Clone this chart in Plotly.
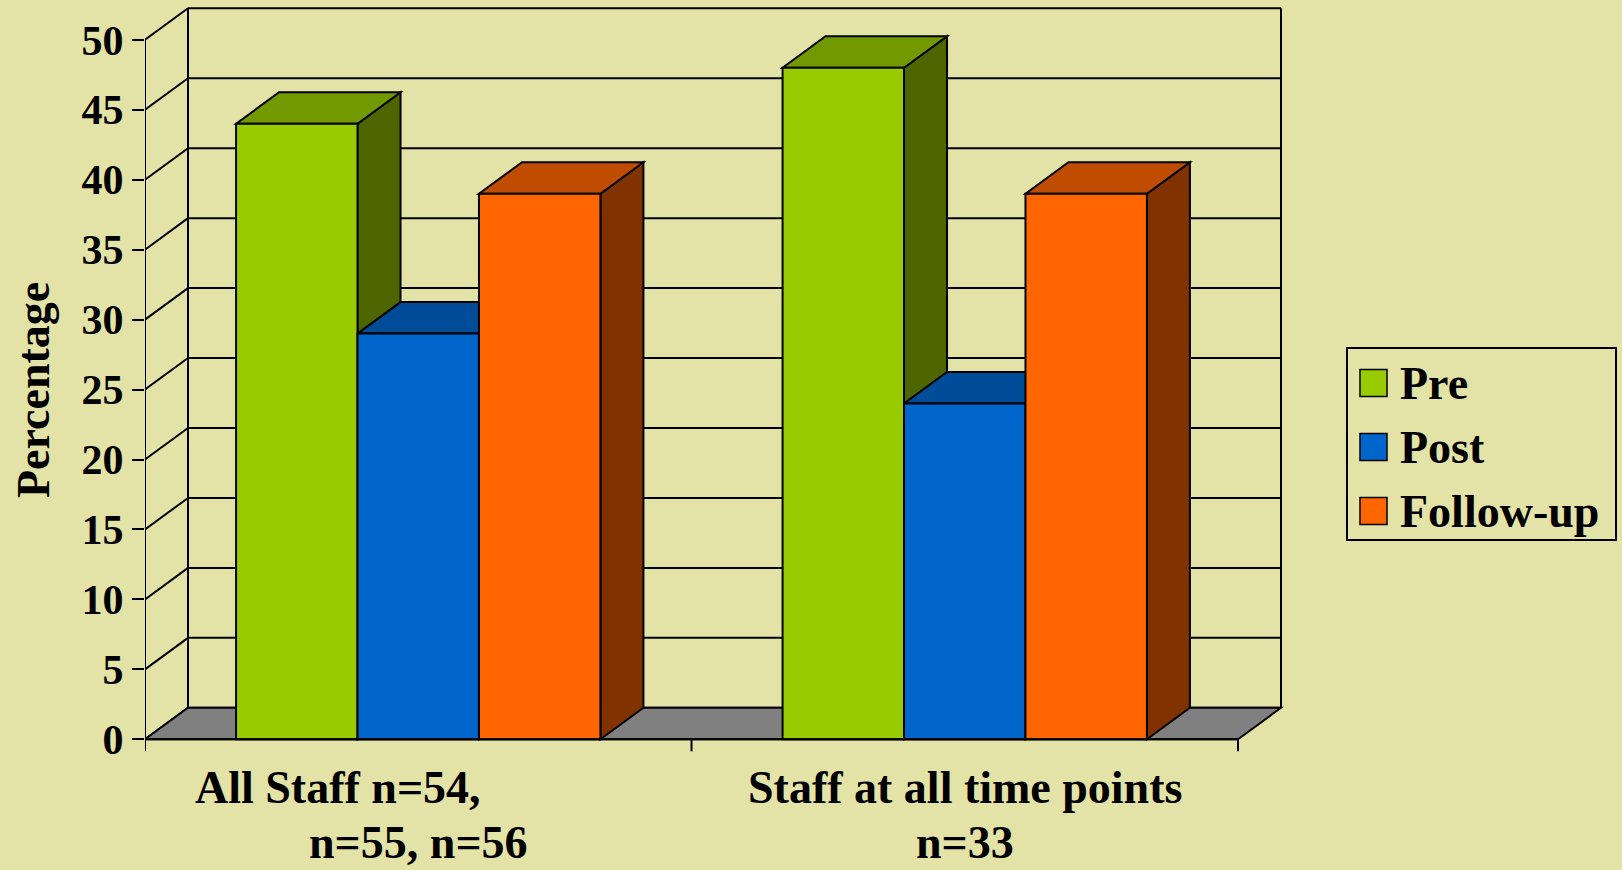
import plotly.graph_objects as go

# ---- data -------------------------------------------------------------
# category labels, one entry per printed line
category_lines = [
    ["All Staff n=54," + "\u00a0" * 14, "n=55, n=56"],
    ["Staff at all time points", "n=33"],
]
series_names = ["Pre", "Post", "Follow-up"]
pre = [44, 48]
post = [29, 24]
follow_up = [39, 39]
y_ticks = [0, 5, 10, 15, 20, 25, 30, 35, 40, 45, 50]
y_title = "Percentage"

# face colours per series: front, top (shaded), side (darker)
front_colors = ["#99CC00", "#0066CC", "#FF6600"]
top_colors = ["#739900", "#004C99", "#BF4C00"]
side_colors = ["#4D6600", "#003366", "#803300"]

BG = "#E3E3A7"
FONT = "Liberation Serif"

# ---- figure geometry ---------------------------------------------------
W, H = 1622, 870
L, R, T, B = 145, 318, 4, 117
PW, PH = W - L - R, H - T - B
PX_PER_X = 546.5          # pixels per category
PX_PER_Y = 13.99          # pixels per percentage point
ZERO_PX = 739.3           # pixel row of y = 0
plot_bottom = H - B

x_min = -0.5
x_max = x_min + PW / PX_PER_X
y_min = -(plot_bottom - ZERO_PX) / PX_PER_Y
y_max = y_min + PH / PX_PER_Y

# oblique depth of the 3-D box
dx = 43 / PX_PER_X
dy = 31.5 / PX_PER_Y

n_cat = len(category_lines)
n_ser = len(series_names)
bargap = 1 / 3
bw = (1 - bargap) / n_ser
values = [pre, post, follow_up]
y_top = y_ticks[-1]
x_lo, x_hi = -0.5, n_cat - 0.5


def px_to_paper_x(p):
    return (p - L) / PW


def px_to_paper_y(p):
    return (plot_bottom - p) / PH


def poly(xs, ys):
    d = "M " + " L ".join(f"{x},{y}" for x, y in zip(xs, ys)) + " Z"
    return d


shapes = []
line_k = dict(color="black", width=2)

# back wall gridlines and left side wall diagonals
for v in y_ticks:
    shapes.append(dict(type="line", xref="x", yref="y", layer="below",
                       x0=x_lo + dx, y0=v + dy, x1=x_hi + dx, y1=v + dy, line=line_k))
    shapes.append(dict(type="line", xref="x", yref="y", layer="below",
                       x0=x_lo, y0=v, x1=x_lo + dx, y1=v + dy, line=line_k))
for xe in (x_lo + dx, x_hi + dx):
    shapes.append(dict(type="line", xref="x", yref="y", layer="below",
                       x0=xe, y0=dy, x1=xe, y1=y_top + dy, line=line_k))

# floor
shapes.append(dict(type="path", xref="x", yref="y", layer="below",
                   path=poly([x_lo, x_hi, x_hi + dx, x_lo + dx], [0, 0, dy, dy]),
                   fillcolor="#808080", line=line_k))

# top and side faces of each bar, painted left to right
for c in range(n_cat):
    for s in range(n_ser):
        v = values[s][c]
        xl = c - (n_ser / 2) * bw + s * bw
        xr = xl + bw
        shapes.append(dict(type="path", xref="x", yref="y", layer="below",
                           path=poly([xr, xr + dx, xr + dx, xr], [0, dy, v + dy, v]),
                           fillcolor=side_colors[s], line=line_k))
        shapes.append(dict(type="path", xref="x", yref="y", layer="below",
                           path=poly([xl, xr, xr + dx, xl + dx], [v, v, v + dy, v + dy]),
                           fillcolor=top_colors[s], line=line_k))

# front axes
shapes.append(dict(type="line", xref="x", yref="y", layer="above",
                   x0=x_lo, y0=0, x1=x_lo, y1=y_top, line=line_k))
shapes.append(dict(type="line", xref="x", yref="y", layer="above",
                   x0=x_lo, y0=0, x1=x_hi, y1=0, line=line_k))
for xb in [x_lo + i for i in range(n_cat + 1)]:
    shapes.append(dict(type="line", xref="x", yref="y", layer="above",
                       x0=xb, y0=0, x1=xb, y1=-12 / PX_PER_Y, line=line_k))

fig = go.Figure()
for s in range(n_ser):
    fig.add_trace(go.Bar(
        x=list(range(n_cat)), y=values[s], name=series_names[s],
        marker=dict(color=front_colors[s], line=dict(color="black", width=2)),
        showlegend=False, hoverinfo="skip",
    ))

annotations = []
# category labels, one annotation per line
line_bottoms = [815, 869.5]
for c, lines in enumerate(category_lines):
    for txt, yb in zip(lines, line_bottoms):
        annotations.append(dict(
            x=c, xref="x", y=px_to_paper_y(yb), yref="paper",
            xanchor="center", yanchor="bottom", showarrow=False,
            text=txt, font=dict(family=FONT, size=46, color="black", weight="bold"),
        ))

# y axis title
annotations.append(dict(
    x=px_to_paper_x(33), y=px_to_paper_y(390), xref="paper", yref="paper",
    text=y_title, textangle=-90, showarrow=False,
    xanchor="center", yanchor="middle",
    font=dict(family=FONT, size=46, color="black", weight="bold"),
))

# legend box
shapes.append(dict(type="rect", xref="paper", yref="paper", layer="above",
                   x0=px_to_paper_x(1347), x1=px_to_paper_x(1616),
                   y0=px_to_paper_y(348), y1=px_to_paper_y(540),
                   line=dict(color="black", width=2), fillcolor="rgba(0,0,0,0)"))
row_centers = [383, 447, 511]
for s, yc in enumerate(row_centers):
    shapes.append(dict(type="rect", xref="paper", yref="paper", layer="above",
                       x0=px_to_paper_x(1360), x1=px_to_paper_x(1387),
                       y0=px_to_paper_y(yc - 13.5), y1=px_to_paper_y(yc + 13.5),
                       line=dict(color="black", width=1.5), fillcolor=front_colors[s]))
    annotations.append(dict(
        x=px_to_paper_x(1398), y=px_to_paper_y(yc), xref="paper", yref="paper",
        text=series_names[s], showarrow=False, xanchor="left", yanchor="middle",
        font=dict(family=FONT, size=46, color="black", weight="bold"),
    ))

fig.update_layout(
    width=W, height=H,
    margin=dict(l=L, r=R, t=T, b=B, pad=0),
    paper_bgcolor=BG, plot_bgcolor=BG,
    barmode="group", bargap=bargap, bargroupgap=0,
    showlegend=False,
    shapes=shapes, annotations=annotations,
    xaxis=dict(range=[x_min, x_max], showgrid=False, zeroline=False,
               showticklabels=False, ticks="", showline=False, fixedrange=True),
    yaxis=dict(range=[y_min, y_max], tickvals=y_ticks, ticks="outside",
               ticklen=12, tickwidth=2, tickcolor="black",
               showgrid=False, zeroline=False, showline=False,
               tickfont=dict(family=FONT, size=42, color="black", weight="bold"),
               fixedrange=True),
)

fig.write_html("out.html", config={"displayModeBar": False})
